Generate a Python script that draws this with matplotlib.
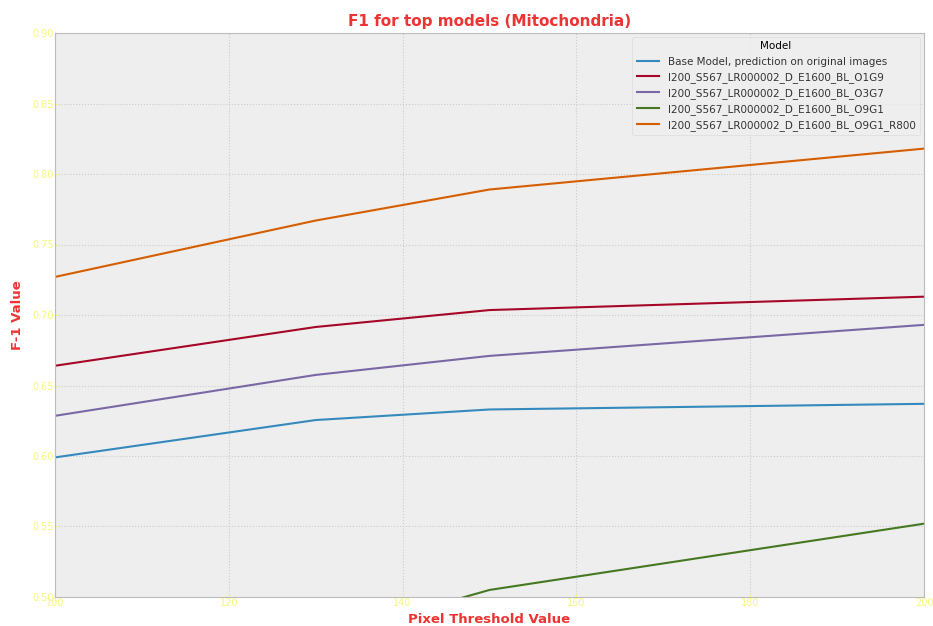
import matplotlib
matplotlib.use("Agg")
import matplotlib.pyplot as plt

plt.style.use("bmh")

thresholds = [100, 130, 150, 200]
labels = [
    "Base Model, prediction on original images",
    "I200_S567_LR000002_D_E1600_BL_O1G9",
    "I200_S567_LR000002_D_E1600_BL_O3G7",
    "I200_S567_LR000002_D_E1600_BL_O9G1",
    "I200_S567_LR000002_D_E1600_BL_O9G1_R800",
]
base_f1 = [0.599, 0.6255, 0.633, 0.637]
o1g9_f1 = [0.664, 0.6915, 0.7035, 0.713]
o3g7_f1 = [0.6285, 0.6575, 0.671, 0.693]
o9g1_f1 = [0.42, 0.47, 0.505, 0.552]
o9g1_r800_f1 = [0.727, 0.767, 0.789, 0.818]
series = [base_f1, o1g9_f1, o3g7_f1, o9g1_f1, o9g1_r800_f1]

fig = plt.figure(figsize=(9.33, 6.26), dpi=100)
ax = fig.add_axes([55 / 933, 1 - 597 / 626, (924 - 55) / 933, (597 - 33) / 626])

for vals, lab in zip(series, labels):
    ax.plot(thresholds, vals, label=lab, linewidth=1.5)

ax.set_xlim(100, 200)
ax.set_ylim(0.50, 0.90)
ax.set_xticks([100, 120, 140, 160, 180, 200])
ax.set_yticks([0.50, 0.55, 0.60, 0.65, 0.70, 0.75, 0.80, 0.85, 0.90])
ax.yaxis.set_major_formatter(matplotlib.ticker.FormatStrFormatter("%.2f"))
ax.tick_params(colors="#f7f77a", labelsize=7, length=2, pad=1)
ax.grid(True, linestyle=":", color="#cccccc", linewidth=0.8)
for s in ax.spines.values():
    s.set_color("#bcbcbc")

ax.set_title("F1 for top models (Mitochondria)", color="#ee3333",
             fontsize=11, fontweight="bold", pad=5)
ax.set_xlabel("Pixel Threshold Value", color="#ee3333", fontsize=9.5,
              fontweight="bold", labelpad=3)
ax.set_ylabel("F-1 Value", color="#ee3333", fontsize=9.5,
              fontweight="bold", labelpad=6)

leg = ax.legend(title="Model", loc="upper right", fontsize=7.5,
                title_fontsize=7.5, frameon=True, handlelength=2.2,
                borderaxespad=0.4)
leg.get_frame().set_facecolor("#eeeeee")
leg.get_frame().set_edgecolor("#d8d8d8")
for t in leg.get_texts():
    t.set_color("#333333")

fig.savefig("out.png", dpi=100)
